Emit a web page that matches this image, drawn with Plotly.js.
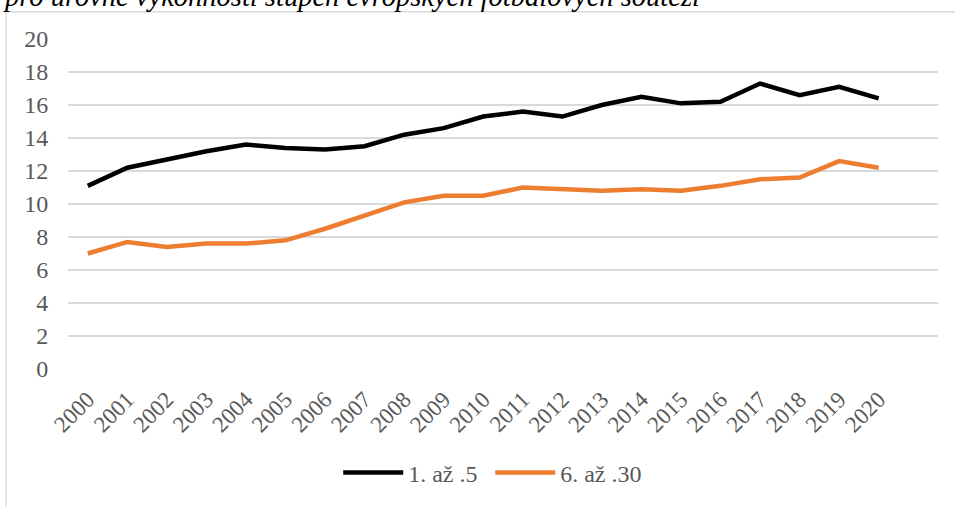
<!DOCTYPE html>
<html>
<head>
<meta charset="utf-8">
<script src="https://cdn.plot.ly/plotly-3.0.1.min.js"></script>
<style>
html,body{margin:0;padding:0;background:#fff;}
#chart{width:955px;height:507px;}
</style>
</head>
<body>
<div id="chart"></div>
<script>
const years = ["2000","2001","2002","2003","2004","2005","2006","2007","2008","2009","2010","2011","2012","2013","2014","2015","2016","2017","2018","2019","2020"];
const series1Name = "1. až .5";
const series1 = [11.1,12.2,12.7,13.2,13.6,13.4,13.3,13.5,14.2,14.6,15.3,15.6,15.3,16.0,16.5,16.1,16.2,17.3,16.6,17.1,16.4];
const series2Name = "6. až .30";
const series2 = [7.0,7.7,7.4,7.6,7.6,7.8,8.5,9.3,10.1,10.5,10.5,11.0,10.9,10.8,10.9,10.8,11.1,11.5,11.6,12.6,12.2];
const yTicks = [0,2,4,6,8,10,12,14,16,18,20];
const titleText = "pro úrovně výkonnosti stupeň evropských fotbalových soutěží";

const serif = "Liberation Serif, Tinos, Times New Roman, DejaVu Serif, serif";
const traces = [
  {x: years, y: series1, name: series1Name, type: 'scatter', mode: 'lines',
   line: {color: '#000000', width: 4.5}},
  {x: years, y: series2, name: series2Name, type: 'scatter', mode: 'lines',
   line: {color: '#ED7D31', width: 4.5}}
];
const layout = {
  width: 955, height: 507,
  margin: {l: 68, r: 17, t: 39, b: 135, pad: 0},
  paper_bgcolor: '#ffffff', plot_bgcolor: '#ffffff',
  font: {family: serif},
  showlegend: true,
  legend: {orientation: 'h', x: 0.3106, xanchor: 'left', y: -0.315, yanchor: 'middle',
    font: {family: serif, size: 24, color: '#595959'}, itemwidth: 60, tracegroupgap: 0,
    entrywidth: 77, entrywidthmode: 'pixels'},
  xaxis: {type: 'category', range: [-0.5, 21.5], showgrid: false, zeroline: false, showline: false,
    ticks: 'outside', ticklen: 7, tickcolor: 'rgba(0,0,0,0)', tickangle: -45,
    tickfont: {family: serif, size: 23, color: '#595959'}, fixedrange: true},
  yaxis: {range: [0, 20], tickvals: yTicks, ticktext: yTicks.map(String), showgrid: true,
    gridcolor: '#D9D9D9', gridwidth: 1.3, zeroline: false, showline: false,
    ticks: 'outside', ticklen: 14, tickcolor: 'rgba(0,0,0,0)',
    tickfont: {family: serif, size: 24, color: '#595959'}, fixedrange: true},
  shapes: [
    {type: 'rect', xref: 'paper', yref: 'paper', x0: (6 - 68) / 870, x1: 1.1,
     y0: -0.5, y1: 1 + (39 - 11.5) / 333, line: {color: '#D9D9D9', width: 1.3}, fillcolor: 'rgba(0,0,0,0)', layer: 'below'}
  ],
  annotations: [
    {text: titleText, xref: 'paper', yref: 'paper', x: 0, y: 1, xanchor: 'left', yanchor: 'bottom',
     xshift: -67, yshift: 24.5, showarrow: false,
     font: {family: serif, size: 28.5, color: '#000000', style: 'italic'}}
  ]
};
Plotly.newPlot('chart', traces, layout, {displayModeBar: false, staticPlot: true});
</script>
</body>
</html>
